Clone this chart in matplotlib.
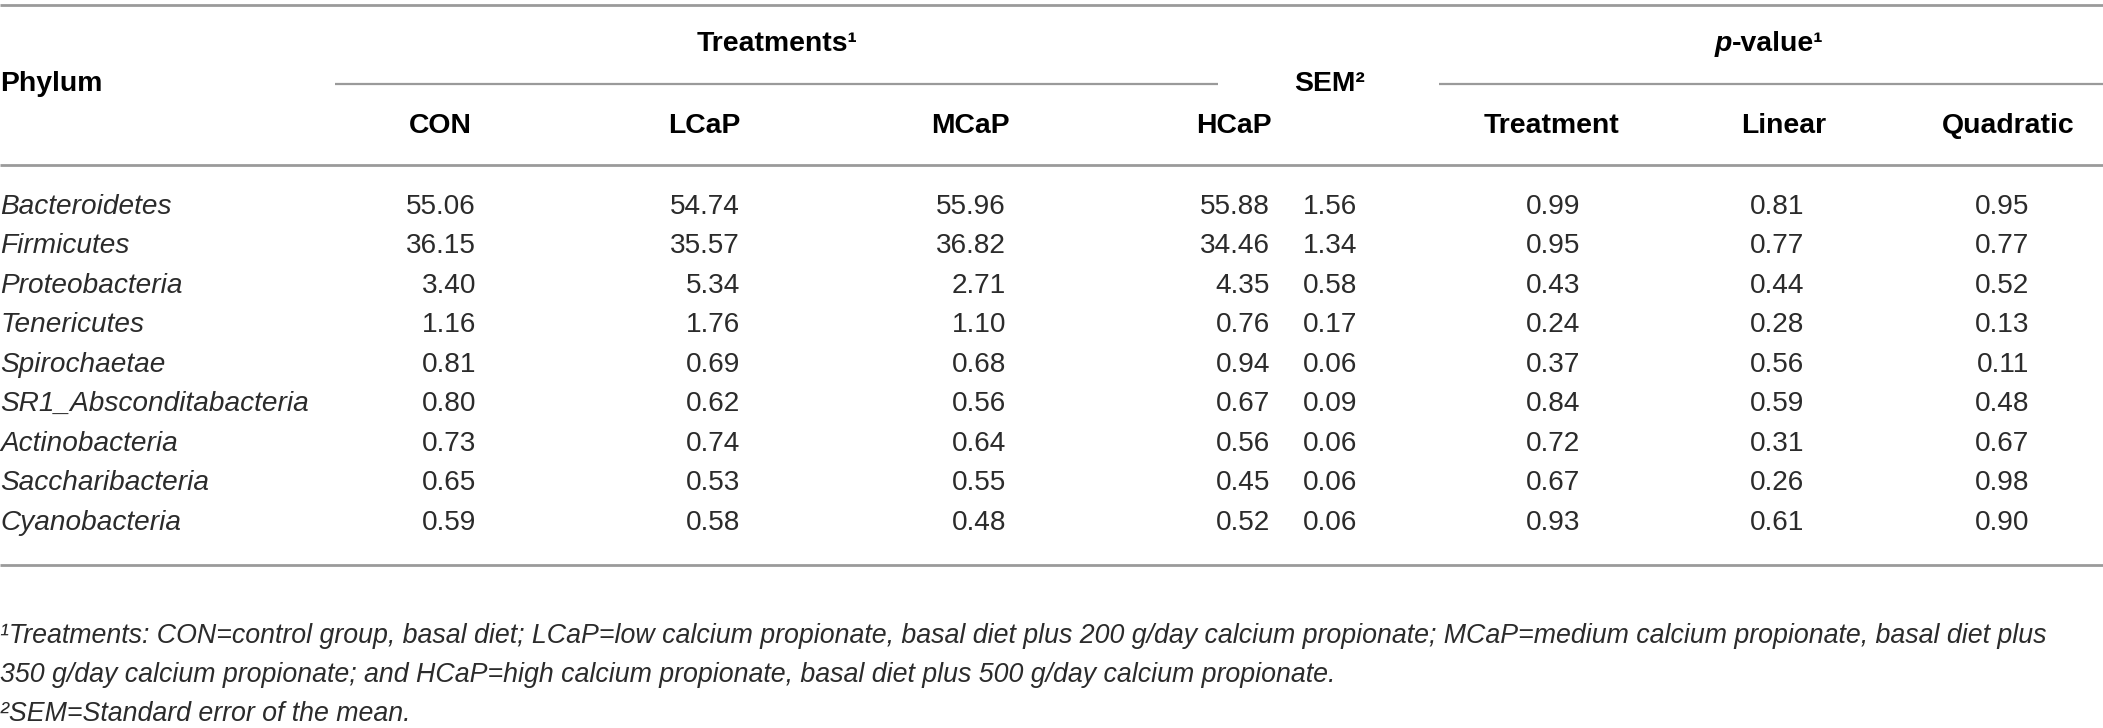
import matplotlib.pyplot as plt
from matplotlib import font_manager

W, H = 2103, 728

phyla = [
    "Bacteroidetes", "Firmicutes", "Proteobacteria", "Tenericutes", "Spirochaetae",
    "SR1_Absconditabacteria", "Actinobacteria", "Saccharibacteria", "Cyanobacteria",
]
con = ["55.06", "36.15", "3.40", "1.16", "0.81", "0.80", "0.73", "0.65", "0.59"]
lcap = ["54.74", "35.57", "5.34", "1.76", "0.69", "0.62", "0.74", "0.53", "0.58"]
mcap = ["55.96", "36.82", "2.71", "1.10", "0.68", "0.56", "0.64", "0.55", "0.48"]
hcap = ["55.88", "34.46", "4.35", "0.76", "0.94", "0.67", "0.56", "0.45", "0.52"]
sem = ["1.56", "1.34", "0.58", "0.17", "0.06", "0.09", "0.06", "0.06", "0.06"]
p_treat = ["0.99", "0.95", "0.43", "0.24", "0.37", "0.84", "0.72", "0.67", "0.93"]
p_lin = ["0.81", "0.77", "0.44", "0.28", "0.56", "0.59", "0.31", "0.26", "0.61"]
p_quad = ["0.95", "0.77", "0.52", "0.13", "0.11", "0.48", "0.67", "0.98", "0.90"]

sub_headers = ["CON", "LCaP", "MCaP", "HCaP", "Treatment", "Linear", "Quadratic"]
footnotes = [
    "\u00b9Treatments: CON=control group, basal diet; LCaP=low calcium propionate, "
    "basal diet plus 200 g/day calcium propionate; MCaP=medium calcium propionate, basal diet plus",
    "350 g/day calcium propionate; and HCaP=high calcium propionate, basal diet plus 500 g/day calcium propionate.",
    "\u00b2SEM=Standard error of the mean.",
]

names = {f.name for f in font_manager.fontManager.ttflist}
FAM = "Liberation Sans" if "Liberation Sans" in names else "DejaVu Sans"
plt.rcParams["font.family"] = [FAM, "DejaVu Sans"]

fig = plt.figure(figsize=(W / 100, H / 100), dpi=100)
ax = fig.add_axes([0, 0, 1, 1])
ax.set_xlim(0, W)
ax.set_ylim(H, 0)
ax.axis("off")
renderer = fig.canvas.get_renderer()


def fit_size(s, target, **kw):
    # pick a font size so that string s is `target` pixels wide
    t = ax.text(0, 0, s, fontsize=20, **kw)
    w = t.get_window_extent(renderer).width
    t.remove()
    return 20 * target / w


FS_BODY = fit_size("SR1_Absconditabacteria", 308, style="italic")
FS_HDR = fit_size("Quadratic", 132, fontweight="bold")
FS_NOTE = fit_size(footnotes[0], 2040, style="italic")

TXT = "#2b2b2b"
LINE = "#9a9a9a"

# column centres for the header and right edges for numbers
col_center = [440, 704, 970, 1234, 1330, 1552, 1784, 2008]
col_right = [476, 740, 1006, 1270, 1357, 1580, 1804, 2029]
row_y = [207, 246, 286, 325, 365, 404, 444, 483, 523]

# rules
ax.hlines(5, 0, W, color=LINE, lw=2)
ax.hlines(84, 335, 1218, color=LINE, lw=1.6)
ax.hlines(84, 1439, W, color=LINE, lw=1.6)
ax.hlines(165, 0, W, color=LINE, lw=2)
ax.hlines(565, 0, W, color=LINE, lw=2)

# headers
hdr = dict(fontsize=FS_HDR, fontweight="bold", va="center", color="black")
ax.text(0, 84, "Phylum", ha="left", **hdr)
ax.text(777, 44, "Treatments\u00b9", ha="center", **hdr)
ax.text(col_center[4], 84, "SEM\u00b2", ha="center", **hdr)
t1 = ax.text(1778, 44, "-value\u00b9", ha="center", **hdr)
x_left = t1.get_window_extent(renderer).x0
ax.text(x_left, 44, "p", ha="right", fontsize=FS_HDR, fontweight="bold", style="italic",
        va="center", color="black")
for i, h in enumerate(sub_headers):
    c = col_center[i] if i < 4 else col_center[i + 1]
    ax.text(c, 126, h, ha="center", **hdr)

# body
cols = [con, lcap, mcap, hcap, sem, p_treat, p_lin, p_quad]
for r, y in enumerate(row_y):
    ax.text(0, y, phyla[r], ha="left", va="center", fontsize=FS_BODY, style="italic",
            color=TXT)
    for c, vals in enumerate(cols):
        ax.text(col_right[c], y, vals[r], ha="right", va="center", fontsize=FS_BODY,
                color=TXT)

# footnotes
for k, line in enumerate(footnotes):
    ax.text(0, 636 + 39 * k, line, ha="left", va="center", fontsize=FS_NOTE,
            style="italic", color=TXT)

fig.savefig("out.png", dpi=100)
